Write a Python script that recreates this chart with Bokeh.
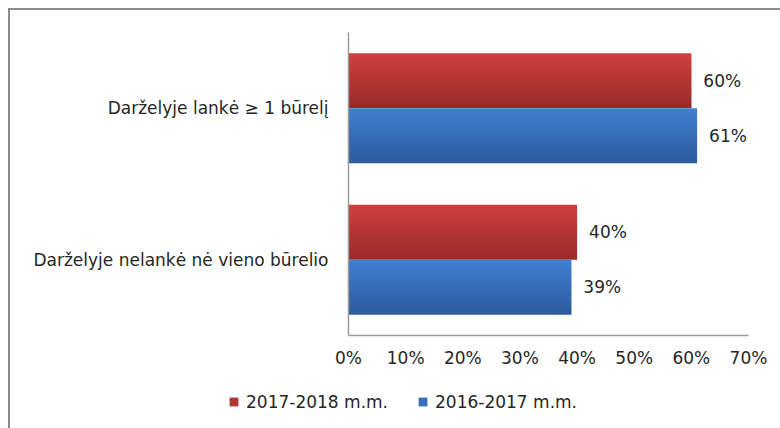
from bokeh.plotting import figure
from bokeh.layouts import column
from bokeh.models import (FactorRange, Range1d, NumeralTickFormatter, FixedTicker,
                          Legend, LegendItem, ColumnDataSource)
from bokeh.transform import dodge
from bokeh.core.properties import value
from bokeh.embed import file_html
from bokeh.resources import INLINE

# ---- data ----
categories = ["Darželyje lankė ≥ 1 būrelį", "Darželyje nelankė nė vieno būrelio"]
series_names = ["2017-2018 m.m.", "2016-2017 m.m."]
values_2017_2018 = [0.60, 0.40]
values_2016_2017 = [0.61, 0.39]
labels_2017_2018 = ["60%", "40%"]
labels_2016_2017 = ["61%", "39%"]
x_ticks = [0.0, 0.1, 0.2, 0.3, 0.4, 0.5, 0.6, 0.7]

FONT = "DejaVu Sans"
TXT = "#262626"
RED_TOP, RED_BOT = (206, 64, 61), (154, 43, 42)
BLUE_TOP, BLUE_BOT = (62, 128, 209), (46, 92, 158)

p = figure(width=770, height=365, y_range=FactorRange(factors=list(reversed(categories))),
           x_range=Range1d(0, 0.7), output_backend="svg", toolbar_location=None,
           min_border_left=338, min_border_right=32, min_border_top=22, min_border_bottom=40)
p.frame_align = False
p.outline_line_color = None
p.xgrid.visible = False
p.ygrid.visible = False

src = ColumnDataSource(dict(cat=categories, v1=values_2017_2018, v2=values_2016_2017,
                            l1=labels_2017_2018, l2=labels_2016_2017))

BAR_H = 0.363
OFF = 0.1815
N = 28


def lerp(c1, c2, t):
    return "#%02x%02x%02x" % tuple(int(round(a + (b - a) * t)) for a, b in zip(c1, c2))


def grad_bar(col, off, top_rgb, bot_rgb):
    for i in range(N):
        t = i / (N - 1)
        o = off + BAR_H / 2 - (i + 0.5) * BAR_H / N
        h = BAR_H / N * 1.6 if i < N - 1 else BAR_H / N
        if i < N - 1:
            o -= (h - BAR_H / N) / 2
        p.hbar(y=dodge("cat", o, range=p.y_range), right=col, left=0,
               height=h, source=src, fill_color=lerp(top_rgb, bot_rgb, t),
               line_color=None)


grad_bar("v1", OFF, RED_TOP, RED_BOT)
grad_bar("v2", -OFF, BLUE_TOP, BLUE_BOT)

for col, lab, off in (("v1", "l1", OFF), ("v2", "l2", -OFF)):
    p.text(x=col, y=dodge("cat", off, range=p.y_range), text=lab, source=src,
           x_offset=12, text_baseline="middle", text_align="left",
           text_font=value(FONT), text_font_size="17px", text_color=TXT)

# axes
p.xaxis.ticker = FixedTicker(ticks=x_ticks)
p.xaxis.formatter = NumeralTickFormatter(format="0%")
for ax in (p.xaxis[0], p.yaxis[0]):
    ax.major_tick_line_color = None
    ax.minor_tick_line_color = None
    ax.major_tick_out = 0
    ax.major_tick_in = 0
    ax.axis_line_color = "#9a9a9a"
    ax.axis_line_width = 1.5
    ax.major_label_text_font = FONT
    ax.major_label_text_font_size = "17px"
    ax.major_label_text_color = TXT
p.xaxis.major_label_standoff = 12
p.yaxis.major_label_standoff = 20

# legend strip (its renderers have zero height and lie outside the visible x range)
pl = figure(width=770, height=53, x_range=Range1d(1, 2),
            y_range=FactorRange(factors=list(reversed(categories))),
            output_backend="svg", toolbar_location=None,
            min_border_left=0, min_border_right=0, min_border_top=0, min_border_bottom=0)
pl.frame_align = False
pl.axis.visible = False
pl.grid.visible = False
pl.outline_line_color = None
lr1 = pl.hbar(y="cat", right="v1", left=0, height=0, source=src,
              fill_color=lerp(RED_TOP, RED_BOT, 0.5), line_color=None)
lr2 = pl.hbar(y="cat", right="v2", left=0, height=0, source=src,
              fill_color=lerp(BLUE_TOP, BLUE_BOT, 0.5), line_color=None)
legend = Legend(items=[LegendItem(label=series_names[0], renderers=[lr1]),
                       LegendItem(label=series_names[1], renderers=[lr2])],
                orientation="horizontal", location="left",
                glyph_width=11, glyph_height=11, label_standoff=7, spacing=29,
                padding=0, margin=218, border_line_color=None, background_fill_alpha=0,
                label_text_font=FONT, label_text_font_size="17px", label_text_color=TXT)
pl.add_layout(legend)

layout = column(p, pl, spacing=0,
                styles={"margin-left": "8px", "margin-top": "8px",
                        "border-left": "2px solid #8c8c8c", "border-top": "2px solid #8c8c8c"})

open("out.html", "w").write(file_html(layout, INLINE))
